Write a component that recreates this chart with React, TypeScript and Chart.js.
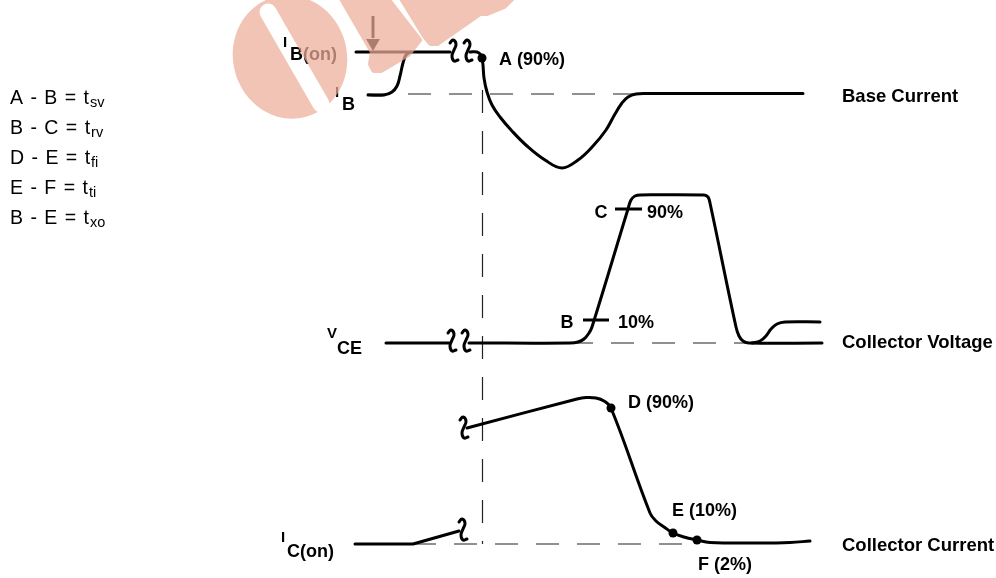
import React, { useEffect, useRef } from "react";
import { Chart, registerables } from "chart.js";

Chart.register(...registerables);

type P = [number, number];

// ---- waveform samples: [time, level] (level axis runs downward) ----
const baseOnLead: P[] = [[356, 52], [450, 52]];
const baseRise: P[] = [[368, 95], [384, 95], [392, 92], [397, 86], [400, 76], [403, 63], [406, 55], [411, 52]];
const baseTurnOff: P[] = [
  [470, 52], [477, 52], [481, 55], [482, 58], [483, 65], [484, 78], [487, 92], [492, 105], [500, 117],
  [512, 131], [527, 146], [545, 160], [562, 168], [578, 160], [593, 146], [606, 130], [615, 114],
  [622, 103], [628, 97], [636, 94], [648, 93.5], [803, 93.5],
];
const vceLead: P[] = [[386, 343], [449, 343]];
const vceMain: P[] = [
  [469, 343], [570, 343], [578, 342], [584, 339], [589, 333], [592, 327], [628, 209], [631, 200],
  [635, 196], [641, 195], [704, 195], [708, 197], [710, 203], [736, 327], [739, 336], [743, 341],
  [749, 343], [822, 343],
];
const vceRing: P[] = [[752, 343], [760, 341], [766, 336], [771, 329], [777, 324], [785, 322], [820, 322]];
const icLow: P[] = [[355, 544], [413, 544], [459, 531]];
const icMain: P[] = [
  [467, 428], [577, 399], [586, 397.5], [596, 398], [604, 401], [611, 408], [650, 513], [656, 521],
  [664, 527], [673, 533], [684, 537], [697, 540], [710, 542.5], [760, 543], [790, 542.5], [810, 541],
];

// ---- reference (dashed) levels ----
const baseRef: P[] = [[367, 94], [640, 94]];
const switchRef: P[] = [[482.5, 90], [482.5, 544]];
const vceRef: P[] = [[570, 343], [750, 343]];
const icRef: P[] = [[413, 544], [700, 544]];

// ---- percentage ticks & marker dots ----
const tickB: P[] = [[583, 320], [609, 320]];
const tickC: P[] = [[615, 209], [642, 209]];
const markerPts: P[] = [[482, 58], [611, 408], [673, 533], [697, 540]];

// ---- arrow ----
const arrowShaft: P[] = [[373, 16], [373, 38]];
const arrowHead: P[] = [[373, 43]];

// ---- time-axis break marks ----
const breakAnchors: P[] = [[454, 51], [468, 51], [452, 341], [466, 341], [464, 428], [463, 530]];
const breakGlyph: P[] = [[-4, -8], [-1, -11], [2, -7], [0, -1], [-2, 5], [0, 10], [4, 9]];

// ---- texts ----
const pointLabels = ["A (90%)", "B", "10%", "C", "90%", "D (90%)", "E (10%)", "F (2%)"];
const pointLabelAt: P[] = [[499, 65], [567, 327.5], [618, 327.5], [601, 217.5], [647, 217.5], [628, 408], [672, 516], [698, 570]];
const pointLabelAlign = ["left", "center", "left", "center", "left", "left", "left", "left"];

const traceNames = ["Base Current", "Collector Voltage", "Collector Current"];
const traceNameAt: P[] = [[842, 101.5], [842, 347.5], [842, 550.5]];

const symbolMain = ["I", "I", "V", "I"];
const symbolMainAt: P[] = [[283, 47], [335, 97], [327, 338], [281, 542]];
const symbolSub = ["B(on)", "B", "CE", "C(on)"];
const symbolSubAt: P[] = [[290, 60], [342, 110], [337, 354], [287, 557]];

const legendMain = ["A - B = t", "B - C = t", "D - E = t", "E - F = t", "B - E = t"];
const legendSub = ["sv", "rv", "fi", "ti", "xo"];
const legendAt: P[] = [[10, 104], [10, 134], [10, 164], [10, 194], [10, 224]];

const FONT = "'Liberation Sans', Arial, Helvetica, sans-serif";

export default function App() {
  const ref = useRef<HTMLCanvasElement>(null);

  useEffect(() => {
    const canvas = ref.current!;
    const toXY = (pts: P[]) => pts.map(([x, y]) => ({ x, y }));
    const line = (pts: P[], extra: any = {}) => ({
      data: toXY(pts),
      showLine: true,
      borderColor: "#000",
      borderWidth: 3,
      pointRadius: 0,
      tension: 0.4,
      fill: false,
      borderCapStyle: "round",
      borderJoinStyle: "round",
      ...extra,
    });
    const dashed = (pts: P[]) =>
      line(pts, { borderWidth: 1.2, borderDash: [23, 18], tension: 0, borderColor: "#222", borderCapStyle: "butt" });

    const breaks = breakAnchors.map(([bx, by]) =>
      line(breakGlyph.map(([dx, dy]) => [bx + dx, by + dy] as P), { borderWidth: 3, tension: 0.5 })
    );

    const datasets: any[] = [
      { data: toXY(markerPts), pointRadius: 4.5, pointBackgroundColor: "#000", pointBorderWidth: 0, showLine: false },
      { data: toXY(arrowHead), pointStyle: "triangle", rotation: 180, pointRadius: 8, pointBackgroundColor: "#000", pointBorderWidth: 0, showLine: false },
      line(arrowShaft, { borderWidth: 3, borderCapStyle: "butt" }),
      line(tickB, { borderCapStyle: "butt" }),
      line(tickC, { borderCapStyle: "butt" }),
      line(baseOnLead),
      line(baseRise),
      line(baseTurnOff),
      line(vceLead),
      line(vceMain),
      line(vceRing),
      line(icLow, { tension: 0 }),
      line(icMain),
      ...breaks,
      dashed(baseRef),
      dashed(switchRef),
      dashed(vceRef),
      dashed(icRef),
    ];

    const textPlugin = {
      id: "texts",
      afterDatasetsDraw(chart: any) {
        const { ctx, scales } = chart;
        const px = (v: number) => scales.x.getPixelForValue(v);
        const py = (v: number) => scales.y.getPixelForValue(v);
        ctx.save();
        ctx.fillStyle = "#000";
        ctx.textBaseline = "alphabetic";
        ctx.font = `bold 18px ${FONT}`;
        pointLabels.forEach((t, i) => {
          ctx.textAlign = pointLabelAlign[i];
          ctx.fillText(t, px(pointLabelAt[i][0]), py(pointLabelAt[i][1]));
        });
        ctx.textAlign = "left";
        symbolSub.forEach((t, i) => ctx.fillText(t, px(symbolSubAt[i][0]), py(symbolSubAt[i][1])));
        ctx.font = `bold 18.5px ${FONT}`;
        traceNames.forEach((t, i) => ctx.fillText(t, px(traceNameAt[i][0]), py(traceNameAt[i][1])));
        ctx.font = `bold 15px ${FONT}`;
        symbolMain.forEach((t, i) => ctx.fillText(t, px(symbolMainAt[i][0]), py(symbolMainAt[i][1])));
        legendMain.forEach((t, i) => {
          const lx = px(legendAt[i][0]);
          const ly = py(legendAt[i][1]);
          ctx.font = `19.5px ${FONT}`;
          (ctx as any).letterSpacing = "1px";
          ctx.fillText(t, lx, ly);
          const w = ctx.measureText(t).width;
          ctx.font = `14.5px ${FONT}`;
          (ctx as any).letterSpacing = "0px";
          ctx.fillText(legendSub[i], lx + w, ly + 3);
        });
        ctx.restore();
      },
    };

    const watermarkPlugin = {
      id: "watermark",
      afterDraw(chart: any) {
        const { ctx, scales } = chart;
        const px = (v: number) => scales.x.getPixelForValue(v);
        const py = (v: number) => scales.y.getPixelForValue(v);
        const off = document.createElement("canvas");
        off.width = chart.width;
        off.height = chart.height;
        const o = off.getContext("2d")!;
        o.fillStyle = "rgb(236,174,153)";
        o.strokeStyle = "rgb(236,174,153)";
        o.lineJoin = "round";
        o.lineWidth = 6;
        o.beginPath();
        o.ellipse(px(290), py(57), 57, 62, -0.25, 0, Math.PI * 2);
        o.fill();
        const poly = (pts: P[]) => {
          o.beginPath();
          pts.forEach(([x, y], i) => (i ? o.lineTo(px(x), py(y)) : o.moveTo(px(x), py(y))));
          o.closePath();
          o.fill();
          o.stroke();
        };
        poly([[340, -5], [384, -5], [419, 40], [408, 54], [381, 70], [374, 70], [371, 64], [373, 52]]);
        poly([[400, -5], [515, -5], [504, 6], [487, 13], [480, 13], [437, 43], [431, 43], [425, 36]]);
        o.globalCompositeOperation = "destination-out";
        o.lineCap = "round";
        o.lineWidth = 17;
        o.beginPath();
        o.moveTo(px(268), py(12));
        o.lineTo(px(321), py(104));
        o.stroke();
        ctx.save();
        ctx.globalAlpha = 0.72;
        ctx.drawImage(off, 0, 0);
        ctx.restore();
      },
    };

    const chart = new Chart(canvas, {
      type: "scatter",
      data: { datasets },
      options: {
        animation: false,
        responsive: false,
        maintainAspectRatio: false,
        devicePixelRatio: 1,
        events: [],
        layout: { padding: 0, autoPadding: false },
        plugins: { legend: { display: false }, tooltip: { enabled: false } },
        scales: {
          x: { type: "linear", min: 0, max: 996, display: false },
          y: { type: "linear", min: 0, max: 578, reverse: true, display: false },
        },
      },
      plugins: [textPlugin, watermarkPlugin],
    } as any);

    return () => chart.destroy();
  }, []);

  return (
    <div style={{ position: "absolute", left: 0, top: 0, width: 996, height: 578, background: "#fff" }}>
      <canvas ref={ref} width={996} height={578} style={{ display: "block" }} />
    </div>
  );
}
